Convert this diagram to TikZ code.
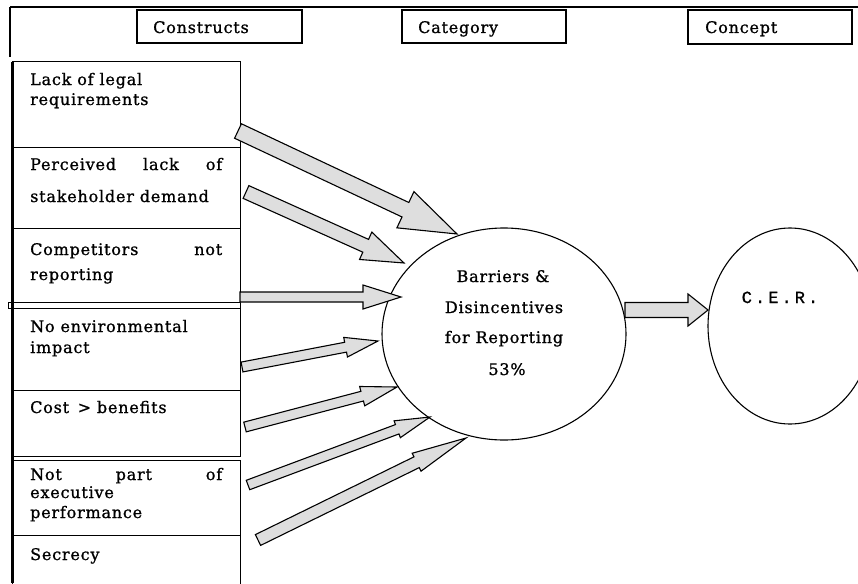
\documentclass[tikz,border=0pt]{standalone}
\usepackage{fontspec}
\setmainfont[LetterSpace=5,FakeBold=1]{DejaVu Serif}
\newfontfamily\cerfont[LetterSpace=18,FakeBold=1]{Liberation Mono}
\usetikzlibrary{shapes.geometric,calc}
\newdimen\bdx \newdimen\bdy
\newcommand\blockarrow[5]{%
 \pgfextractx{\bdx}{\pgfpointdiff{\pgfpointanchor{#1}{center}}{\pgfpointanchor{#2}{center}}}%
 \pgfextracty{\bdy}{\pgfpointdiff{\pgfpointanchor{#1}{center}}{\pgfpointanchor{#2}{center}}}%
 \pgfmathsetmacro\bang{atan2(\bdy,\bdx)}%
 \pgfmathsetmacro\blen{veclen(\bdx,\bdy)}%
 \begin{scope}[shift={(#1)},rotate=\bang,x=1pt,y=1pt]
 \draw[barrowst] (0,#3) -- ({\blen-#5},#3) -- ({\blen-#5},#4) -- (\blen,0) -- ({\blen-#5},-#4) -- ({\blen-#5},-#3) -- (0,-#3) -- cycle;
 \end{scope}}
\tikzset{
 barrowst/.style={draw, line width=1.1pt, fill=black!13, line join=miter},
 hdrbox/.style={draw, line width=1.3pt},
 cbox/.style={draw, line width=1pt},
 btxt/.style={anchor=base west, inner sep=0pt, font=\fontsize{16}{18}\selectfont},
 ctxt/.style={anchor=base, inner sep=0pt, font=\fontsize{16}{18}\selectfont},
}
\begin{document}
\begin{tikzpicture}[x=1pt,y=-1pt]
\useasboundingbox (0,0) rectangle (858,583);
\clip (0,0) rectangle (858,583);
% frame lines
\draw[line width=1.5pt] (10,7) -- (858,7);
\draw[line width=1.5pt] (10,7) -- (10,57);
% headers
\draw[hdrbox] (137,10) rectangle (302,43);
\draw[hdrbox] (402,10) rectangle (566,43);
\draw[hdrbox] (688,10) rectangle (852,44);
\node[btxt] (hcons) at (153,33) {Constructs};
\node[btxt] (hcat) at (418,33) {Category};
\node[btxt] (hcon) at (705,33) {Concept};
% construct boxes
\draw[cbox] (12,62) rectangle (240,147);
\draw[cbox] (12,147) rectangle (240,228);
\draw[cbox] (12,228) rectangle (240,302);
\draw[cbox] (8,302) rectangle (240,308);
\draw[cbox] (12,308) rectangle (240,390);
\draw[cbox] (12,390) rectangle (240,456);
\draw[cbox] (12,460) rectangle (240,535);
\draw[cbox] (12,535) rectangle (240,600);
\draw[line width=3pt] (12,62) -- (12,583);
\node[btxt] (c1a) at (30,85) {Lack of legal};
\node[btxt] (c1b) at (30,105) {requirements};
\node[btxt] (c2a) at (30,170) {\makebox[192pt][s]{Perceived lack of}};
\node[btxt] (c2b) at (30,202) {stakeholder demand};
\node[btxt] (c3a) at (30,255) {\makebox[192pt][s]{Competitors not}};
\node[btxt] (c3b) at (30,280) {reporting};
\node[btxt] (c4a) at (30,332) {No environmental};
\node[btxt] (c4b) at (30,353) {impact};
\node[btxt] (c5a) at (30,413) {Cost \,> benefits};
\node[btxt] (c6a) at (30,480) {\makebox[192pt][s]{Not part of}};
\node[btxt] (c6b) at (30,498) {executive};
\node[btxt] (c6c) at (30,518) {performance};
\node[btxt] (c7a) at (30,560) {Secrecy};
% ellipses
\node[ellipse, draw, line width=1.1pt, minimum width=244pt, minimum height=212pt, inner sep=0pt] (bar) at (504,334) {};
\node[ellipse, draw, line width=1.1pt, minimum width=164pt, minimum height=196pt, inner sep=0pt] (cer) at (790,326) {};
\node[ctxt] (b1) at (503,282) {Barriers \&};
\node[ctxt] (b2) at (504,313) {Disincentives};
\node[ctxt] (b3) at (504,343) {for Reporting};
\node[ctxt] (b4) at (507,375) {53\%};
\node[anchor=base, inner sep=0pt, font=\cerfont\fontsize{17}{19}\selectfont] (cert) at (780,303) {C.E.R.};
% arrow ends
\coordinate (t1) at (238,131); \coordinate (p1) at (457,234);
\coordinate (t2) at (246,192); \coordinate (p2) at (404,263);
\coordinate (t3) at (240,297); \coordinate (p3) at (401,297);
\coordinate (t4) at (242,367); \coordinate (p4) at (378,341);
\coordinate (t5) at (245,427); \coordinate (p5) at (397,387);
\coordinate (t6) at (248,485); \coordinate (p6) at (430,417);
\coordinate (t7) at (258,540); \coordinate (p7) at (466,438);
\coordinate (t8) at (625,310); \coordinate (p8) at (708,310);
\blockarrow{t1}{p1}{8}{20}{57}
\blockarrow{t2}{p2}{7}{15}{42}
\blockarrow{t3}{p3}{5}{12}{38}
\blockarrow{t4}{p4}{5}{10}{33}
\blockarrow{t5}{p5}{5}{10}{36}
\blockarrow{t6}{p6}{5}{9}{35}
\blockarrow{t7}{p7}{6}{10}{55}
\blockarrow{t8}{p8}{7.5}{16}{20}
\end{tikzpicture}
\end{document}
